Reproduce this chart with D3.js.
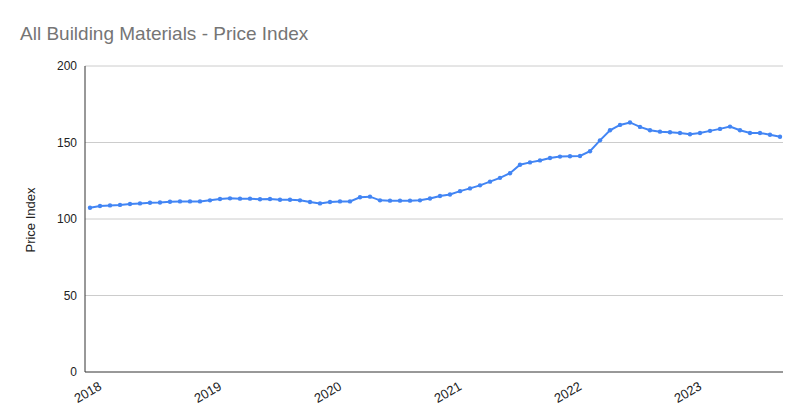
<!DOCTYPE html>
<html><head><meta charset="utf-8">
<script src="https://cdn.jsdelivr.net/npm/d3@7"></script>
<style>body{margin:0;background:#fff;font-family:Arial,"Liberation Sans",sans-serif}</style>
</head><body><svg id="c" width="805" height="419"></svg>
<script>
const yearLabels=["2018","2019","2020","2021","2022","2023"];
const yTicks=[0,50,100,150,200];
const values=[107.4,108.5,108.9,109.2,109.8,110.2,110.6,110.8,111.3,111.5,111.5,111.5,
112.2,113.1,113.5,113.3,113.3,112.9,113.1,112.6,112.6,112.2,111.1,110.2,
111.1,111.5,111.5,114.2,114.6,112.2,112.0,112.0,112.0,112.2,113.4,115.0,
116.0,118.2,120.0,122.0,124.4,126.9,129.9,135.5,137.0,138.3,139.9,140.8,
141.0,141.2,144.3,151.4,158.0,161.5,163.1,160.2,158.0,157.1,156.7,156.2,
155.4,156.2,157.6,158.9,160.4,158.0,156.2,156.2,155.1,153.8];
const svg=d3.select("#c");
const x=d3.scaleLinear().domain([0,values.length-1]).range([90,780]);
const y=d3.scaleLinear().domain([0,200]).range([372,66]);
svg.append("text").attr("x",20).attr("y",40).attr("font-size",19).attr("fill","#757575").text("All Building Materials - Price Index");
yTicks.forEach(t=>{
  if(t>0) svg.append("line").attr("x1",85).attr("x2",783).attr("y1",y(t)).attr("y2",y(t)).attr("stroke","#cccccc");
  svg.append("text").attr("x",77).attr("y",y(t)+4).attr("text-anchor","end").attr("font-size",12).attr("fill","#222").text(t);
});
svg.append("line").attr("x1",85).attr("x2",85).attr("y1",66).attr("y2",372).attr("stroke","#333");
svg.append("line").attr("x1",85).attr("x2",783).attr("y1",372).attr("y2",372).attr("stroke","#333");
svg.append("text").attr("transform","translate(35,220) rotate(-90)").attr("text-anchor","middle").attr("font-size",13).attr("fill","#222").text("Price Index");
yearLabels.forEach((l,k)=>{
  const px=x(k*12)+8;
  svg.append("text").attr("transform",`translate(${px},381) rotate(-30)`).attr("text-anchor","end").attr("dy","0.7em").attr("font-size",13).attr("fill","#222").text(l);
});
svg.append("path").datum(values).attr("fill","none").attr("stroke","#4285f4").attr("stroke-width",2)
 .attr("d",d3.line().x((d,i)=>x(i)).y(d=>y(d)));
svg.selectAll("circle").data(values).enter().append("circle").attr("cx",(d,i)=>x(i)).attr("cy",d=>y(d)).attr("r",2.2).attr("fill","#4285f4");
</script></body></html>
